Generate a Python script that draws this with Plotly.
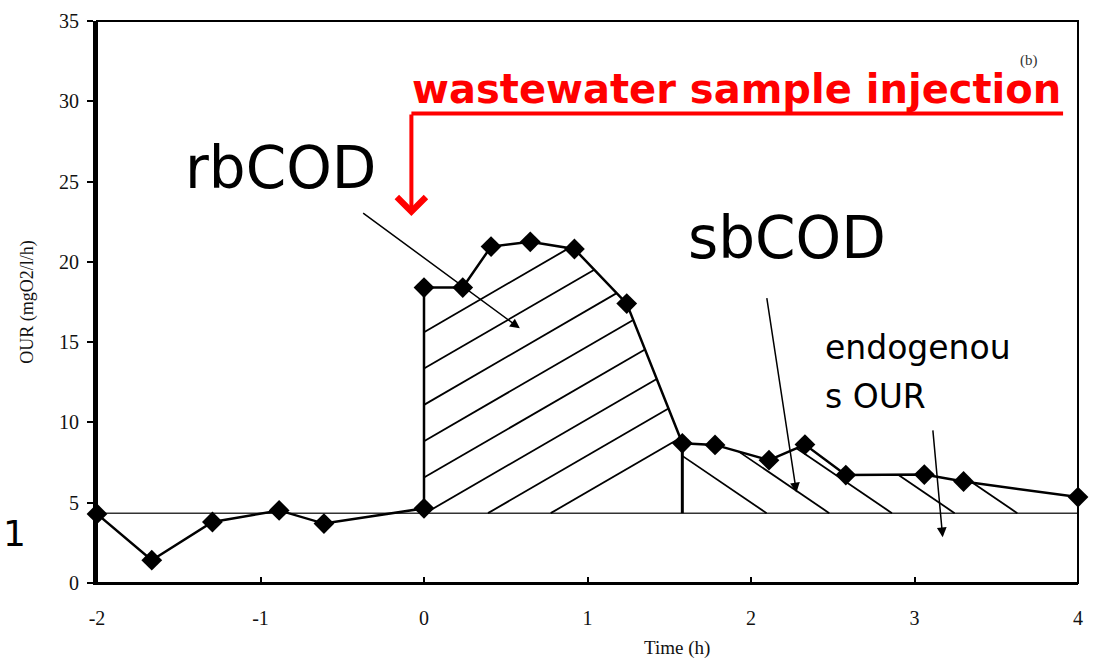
import plotly.graph_objects as go

# ---------------- data ----------------
time_h = [-2.0, -1.665, -1.294, -0.886, -0.612, 0.0, 0.0, 0.237, 0.41, 0.65,
          0.92, 1.24, 1.58, 1.78, 2.11, 2.33, 2.58, 3.06, 3.30, 4.0]
our = [4.3, 1.42, 3.8, 4.52, 3.7, 4.65, 18.4, 18.4, 20.95, 21.25,
       20.8, 17.4, 8.7, 8.6, 7.65, 8.62, 6.72, 6.75, 6.32, 5.35]
endogenous_our = 4.35
x_ticks = [-2, -1, 0, 1, 2, 3, 4]
x_tick_labels = ["-2", "-1", "0", "1", "2", "3", "4"]
y_ticks = [0, 5, 10, 15, 20, 25, 30, 35]
rb_idx = (6, 12)   # rbCOD area: points 7..13
sb_idx = (12, 19)  # sbCOD area: points 13..20

# ---------------- geometry ----------------
W, H = 1093, 662
ML, MR, MT, MB = 97, 10, 18, 79
XR, YR = [-2, 4], [0, 35]
PW, PH = W - ML - MR, H - MT - MB
sx = PW / (XR[1] - XR[0])
sy = PH / (YR[1] - YR[0])


def px(xp):
    return (xp - ML) / PW


def py(yp):
    return (H - MB - yp) / PH


def dx(xp):
    return XR[0] + (xp - ML) / sx


def dy(yp):
    return (H - MB - yp) / sy


def hatch(poly, slope_px, start_x, step_x, n):
    P = [(x * sx, y * sy) for x, y in poly]
    xs, ys = [], []
    for k in range(n):
        u0, v0 = (start_x + k * step_x) * sx, endogenous_our * sy
        f = [(v - v0) - slope_px * (u - u0) for u, v in P]
        pts = []
        for i in range(len(P)):
            j = (i + 1) % len(P)
            if (f[i] > 0) != (f[j] > 0):
                t = f[i] / (f[i] - f[j])
                pts.append((P[i][0] + t * (P[j][0] - P[i][0]),
                            P[i][1] + t * (P[j][1] - P[i][1])))
        pts.sort()
        for a, b in zip(pts[0::2], pts[1::2]):
            xs += [a[0] / sx, b[0] / sx, None]
            ys += [a[1] / sy, b[1] / sy, None]
    return xs, ys


a, b = rb_idx
poly1 = [(time_h[a], endogenous_our)] + list(zip(time_h[a:b + 1], our[a:b + 1])) + [(time_h[b], endogenous_our)]
a2, b2 = sb_idx
poly2 = [(time_h[a2], endogenous_our)] + list(zip(time_h[a2:b2 + 1], our[a2:b2 + 1])) + [(time_h[b2], endogenous_our)]

step = 63 / sx
h1x, h1y = hatch(poly1, 0.58, dx(553), -step, 8)
h2x, h2y = hatch(poly2, -0.68, dx(770), step, 5)

fig = go.Figure()
fig.add_trace(go.Scatter(x=[XR[0], XR[1]], y=[endogenous_our, endogenous_our], mode="lines",
                         line=dict(color="#333", width=1.5), hoverinfo="skip"))
fig.add_trace(go.Scatter(x=h1x, y=h1y, mode="lines", line=dict(color="black", width=1.8),
                         hoverinfo="skip"))
fig.add_trace(go.Scatter(x=h2x, y=h2y, mode="lines", line=dict(color="black", width=1.8),
                         hoverinfo="skip"))
fig.add_trace(go.Scatter(x=[time_h[b], time_h[b]], y=[our[b], endogenous_our], mode="lines",
                         line=dict(color="black", width=3), hoverinfo="skip"))
fig.add_trace(go.Scatter(x=time_h, y=our, mode="lines+markers", cliponaxis=False,
                         line=dict(color="black", width=2.5),
                         marker=dict(symbol="diamond", size=16, color="black")))

tickfont = dict(family="Liberation Serif", size=20, color="#111")
fig.update_layout(
    width=W, height=H, showlegend=False,
    margin=dict(l=ML, r=MR, t=MT, b=MB),
    plot_bgcolor="white", paper_bgcolor="white",
    xaxis=dict(range=XR, tickvals=x_ticks, ticktext=x_tick_labels, ticks="inside", ticklen=6,
               tickwidth=1.5, tickcolor="black", showgrid=False, zeroline=False, showline=True,
               linecolor="black", linewidth=2, tickfont=tickfont, ticklabelstandoff=16),
    yaxis=dict(range=YR, tickvals=y_ticks, ticks="outside", ticklen=6, tickwidth=1.5,
               tickcolor="black", showgrid=False, zeroline=False, showline=True,
               linecolor="black", linewidth=4, tickfont=tickfont, ticklabelstandoff=4,
               title=dict(text="OUR (mgO2/l/h)", font=dict(family="Liberation Serif", size=18, color="#111"),
                          standoff=22)),
)
fig.add_shape(type="rect", xref="paper", yref="paper", x0=0, x1=1, y0=0, y1=1,
              line=dict(color="black", width=2))

comic = "DejaVu Sans"
anns = [
    dict(text="rbCOD", x=px(281), y=py(166), size=58),
    dict(text="sbCOD", x=px(791), y=py(236), size=58),
]
for an in anns:
    fig.add_annotation(text=an["text"], xref="paper", yref="paper", x=an["x"], y=an["y"],
                       xanchor="center", yanchor="middle", showarrow=False,
                       font=dict(family=comic, size=an["size"], color="black"))
for txt, yy in [("endogenou", 346), ("s OUR", 396)]:
    fig.add_annotation(text=txt, xref="paper", yref="paper", x=px(827), y=py(yy),
                       xanchor="left", yanchor="middle", showarrow=False,
                       font=dict(family=comic, size=33, color="black"))

fig.add_annotation(text="<b>wastewater sample injection</b>", xref="paper", yref="paper",
                   x=px(740), y=py(86), xanchor="center", yanchor="middle", showarrow=False,
                   font=dict(family=comic, size=40, color="#ff0000"))
fig.add_shape(type="line", xref="paper", yref="paper", x0=px(413), x1=px(1068), y0=py(111), y1=py(111),
              line=dict(color="#ff0000", width=4))
fig.add_annotation(text="", xref="paper", yref="paper", x=px(413), y=py(214), ax=0, ay=-103,
                   showarrow=True, arrowhead=4, arrowsize=1.4, arrowwidth=4, arrowcolor="#ff0000")

for (tx, ty), (hx, hy) in [((363, 210), (522, 327)), ((770, 295), (800, 492)), ((937, 428), (947, 537))]:
    fig.add_annotation(text="", x=dx(hx), y=dy(hy), ax=dx(tx), ay=dy(ty), xref="x", yref="y",
                       axref="x", ayref="y", showarrow=True, arrowhead=2, arrowsize=1.3,
                       arrowwidth=1.5, arrowcolor="black")

fig.add_annotation(text="(b)", xref="paper", yref="paper", x=px(1045), y=py(47), showarrow=False,
                   font=dict(family="Liberation Serif", size=15, color="#333"))
fig.add_annotation(text="Time (h)", xref="paper", yref="paper", x=px(680), y=py(648), yanchor="middle",
                   showarrow=False, font=dict(family="Liberation Serif", size=19, color="#111"))
fig.add_annotation(text="1", xref="paper", yref="paper", x=px(1), y=py(556), xanchor="left",
                   showarrow=False, font=dict(family="DejaVu Sans", size=36, color="black"))

fig.write_html("out.html")
